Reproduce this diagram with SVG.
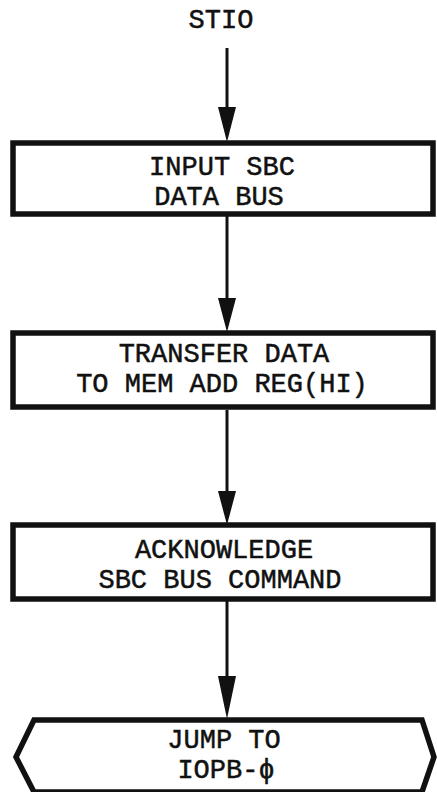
<svg xmlns="http://www.w3.org/2000/svg" width="437" height="792" viewBox="0 0 437 792">
<style>
.bg{fill:#ffffff}
.node{fill:#ffffff;stroke:#111111;stroke-width:5.5;stroke-linejoin:miter}
.lbl{font-family:"Courier New","Liberation Mono","DejaVu Sans Mono",monospace;font-size:27px;fill:#111111;stroke:#111111;stroke-width:0.5;text-anchor:middle}
.edge{stroke:#111111;stroke-width:3;fill:none}
.head{fill:#111111;stroke:none}
</style>
<rect class="bg" x="0" y="0" width="437" height="792"/>
<g id="start">
<text class="lbl" x="221" y="28">STIO</text>
</g>
<g id="connectors">
<line class="edge" x1="227" y1="48" x2="227" y2="112"/>
<polygon class="head" points="218,107 236,107 227,142"/>
<line class="edge" x1="227" y1="216" x2="227" y2="302"/>
<polygon class="head" points="218,298 236,298 227,332"/>
<line class="edge" x1="227" y1="410" x2="227" y2="496"/>
<polygon class="head" points="218,491 236,491 227,525"/>
<line class="edge" x1="227" y1="601" x2="227" y2="684"/>
<polygon class="head" points="218,676 236,676 227,719"/>
</g>
<g id="input-sbc">
<rect class="node" x="13" y="143" width="420" height="71"/>
<text class="lbl" x="222" y="175">INPUT SBC</text>
<text class="lbl" x="219" y="205">DATA BUS</text>
</g>
<g id="transfer-data">
<rect class="node" x="13" y="333" width="420" height="74"/>
<text class="lbl" x="224" y="362">TRANSFER DATA</text>
<text class="lbl" x="222" y="392">TO MEM ADD REG(HI)</text>
</g>
<g id="acknowledge">
<rect class="node" x="13" y="525" width="420" height="74"/>
<text class="lbl" x="224" y="558">ACKNOWLEDGE</text>
<text class="lbl" x="220" y="588">SBC BUS COMMAND</text>
</g>
<g id="jump">
<polygon class="node" points="34,720 422,720 434,757 422,792 34,792 16,757"/>
<text class="lbl" x="224" y="748">JUMP TO</text>
<text class="lbl" x="226" y="778">IOPB-ϕ</text>
</g>
</svg>
